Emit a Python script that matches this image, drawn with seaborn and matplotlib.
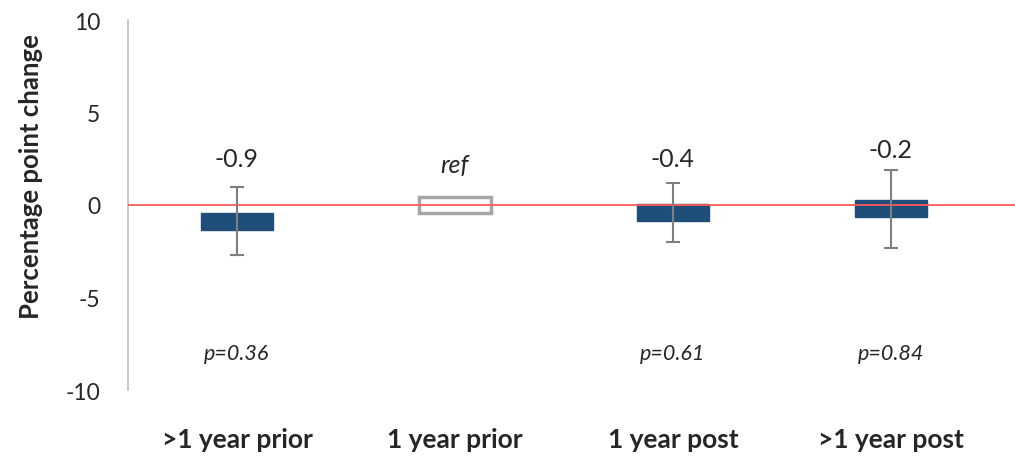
import matplotlib
matplotlib.use("Agg")
import matplotlib.pyplot as plt
import seaborn as sns
import pandas as pd

categories = [">1 year prior", "1 year prior", "1 year post", ">1 year post"]
estimates = [-0.9, 0.0, -0.4, -0.2]
ci_low = [-2.7, None, -2.0, -2.3]
ci_high = [1.0, None, 1.2, 1.9]
value_labels = ["-0.9", "ref", "-0.4", "-0.2"]
p_labels = ["p=0.36", "", "p=0.61", "p=0.84"]
y_ticks = [-10, -5, 0, 5, 10]

BOX_H = 0.9
sns.set_theme(style="white")
plt.rcParams["font.family"] = ["Lato", "DejaVu Sans"]

fig = plt.figure(figsize=(10.15, 4.64), dpi=100)
ax = fig.add_axes([128/1015, 73/464, (1015-128)/1015, (391-21)/464])

df = pd.DataFrame({"cat": categories, "h": [BOX_H]*4})
sns.barplot(data=df, x="cat", y="h", order=categories, color="#1F4E79",
            width=0.33, ax=ax, saturation=1, zorder=2)
for i, p in enumerate(ax.patches):
    p.set_y(estimates[i] - BOX_H/2)
    if value_labels[i] == "ref":
        p.set_facecolor("white")
        p.set_edgecolor("#A6A6A6")
        p.set_linewidth(2.5)
    else:
        p.set_edgecolor("#1F4E79")

ax.axhline(0, color="#FF5A5A", lw=1.3, zorder=3)

for i, (lo, hi, est) in enumerate(zip(ci_low, ci_high, estimates)):
    if lo is None:
        continue
    ax.errorbar(i, est, yerr=[[est - lo], [hi - est]], fmt="none",
                ecolor="#7F7F7F", elinewidth=1.5, capsize=5, capthick=1.5, zorder=4)

for i, lab in enumerate(value_labels):
    if lab == "ref":
        ax.text(i, 2.2, lab, ha="center", va="center", fontsize=18, style="italic")
    else:
        y = max(ci_high[i] + 1.1, 2.5)
        ax.text(i, y, lab, ha="center", va="center", fontsize=18)
    if p_labels[i]:
        ax.text(i, -8, p_labels[i], ha="center", va="center", fontsize=15.5, style="italic")

ax.set_ylim(-10, 10)
ax.set_xlim(-0.5, 3.57)
ax.set_yticks(y_ticks)
ax.set_yticklabels([str(t) for t in y_ticks], fontsize=16.5)
ax.tick_params(axis="y", length=0, pad=20)
ax.tick_params(axis="x", length=0, pad=27, labelsize=19)
for t in ax.get_xticklabels():
    t.set_fontweight("bold")
ax.set_xlabel("")
ax.set_ylabel("Percentage point change", fontsize=18.5, fontweight="bold", labelpad=16)
ax.yaxis.label.set_y((391 - 177) / 370)
for s in ["top", "right", "bottom"]:
    ax.spines[s].set_visible(False)
ax.spines["left"].set_color("#BFBFBF")
ax.spines["left"].set_linewidth(1.2)

fig.savefig("out.png", dpi=100)
